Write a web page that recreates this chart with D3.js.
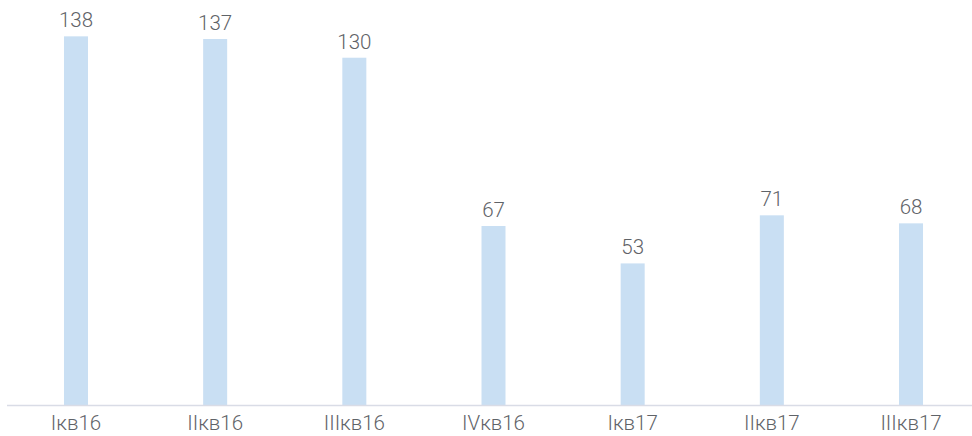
<!DOCTYPE html>
<html><head><meta charset="utf-8">
<script src="https://cdn.jsdelivr.net/npm/d3@7"></script>
<style>body{margin:0;background:#fff}svg{display:block}</style>
</head><body>
<script>
const categories = ["Iкв16","IIкв16","IIIкв16","IVкв16","Iкв17","IIкв17","IIIкв17"];
const values = [138,137,130,67,53,71,68];

const W = 972, H = 436;
const svg = d3.select("body").append("svg").attr("width", W).attr("height", H);
const x = d3.scaleBand().domain(categories).range([6.4, 980.6]).paddingInner(0.8275).paddingOuter(0.41375);
const y = d3.scaleLinear().domain([0, 140]).range([405, 31]);

svg.selectAll("rect.bar").data(values).join("rect")
  .attr("class","bar")
  .attr("x", (d,i) => x(categories[i]))
  .attr("width", x.bandwidth())
  .attr("y", d => y(d))
  .attr("height", d => y(0) - y(d))
  .attr("fill", "#c9dff3");

svg.selectAll("text.val").data(values).join("text")
  .attr("class","val")
  .attr("x", (d,i) => x(categories[i]) + x.bandwidth()/2)
  .attr("y", d => y(d) - 9)
  .attr("text-anchor","middle")
  .attr("font-family","Roboto, sans-serif")
  .attr("font-weight", 300)
  .attr("font-size", 20.5)
  .attr("fill","#5f6368")
  .text(d => d);

const axis = d3.axisBottom(x).tickSize(0).tickPadding(10);
const g = svg.append("g").attr("transform", `translate(0,${y(0)})`).call(axis);
g.select(".domain").remove();
g.append("line").attr("x1",7).attr("x2",972).attr("y1",0.5).attr("y2",0.5)
  .attr("stroke","#d9dce6").attr("stroke-width",1.5);
g.selectAll("text").attr("font-family","Roboto, sans-serif").attr("font-weight",300)
  .attr("font-size",20.5).attr("fill","#5f6368");
</script>
</body></html>
